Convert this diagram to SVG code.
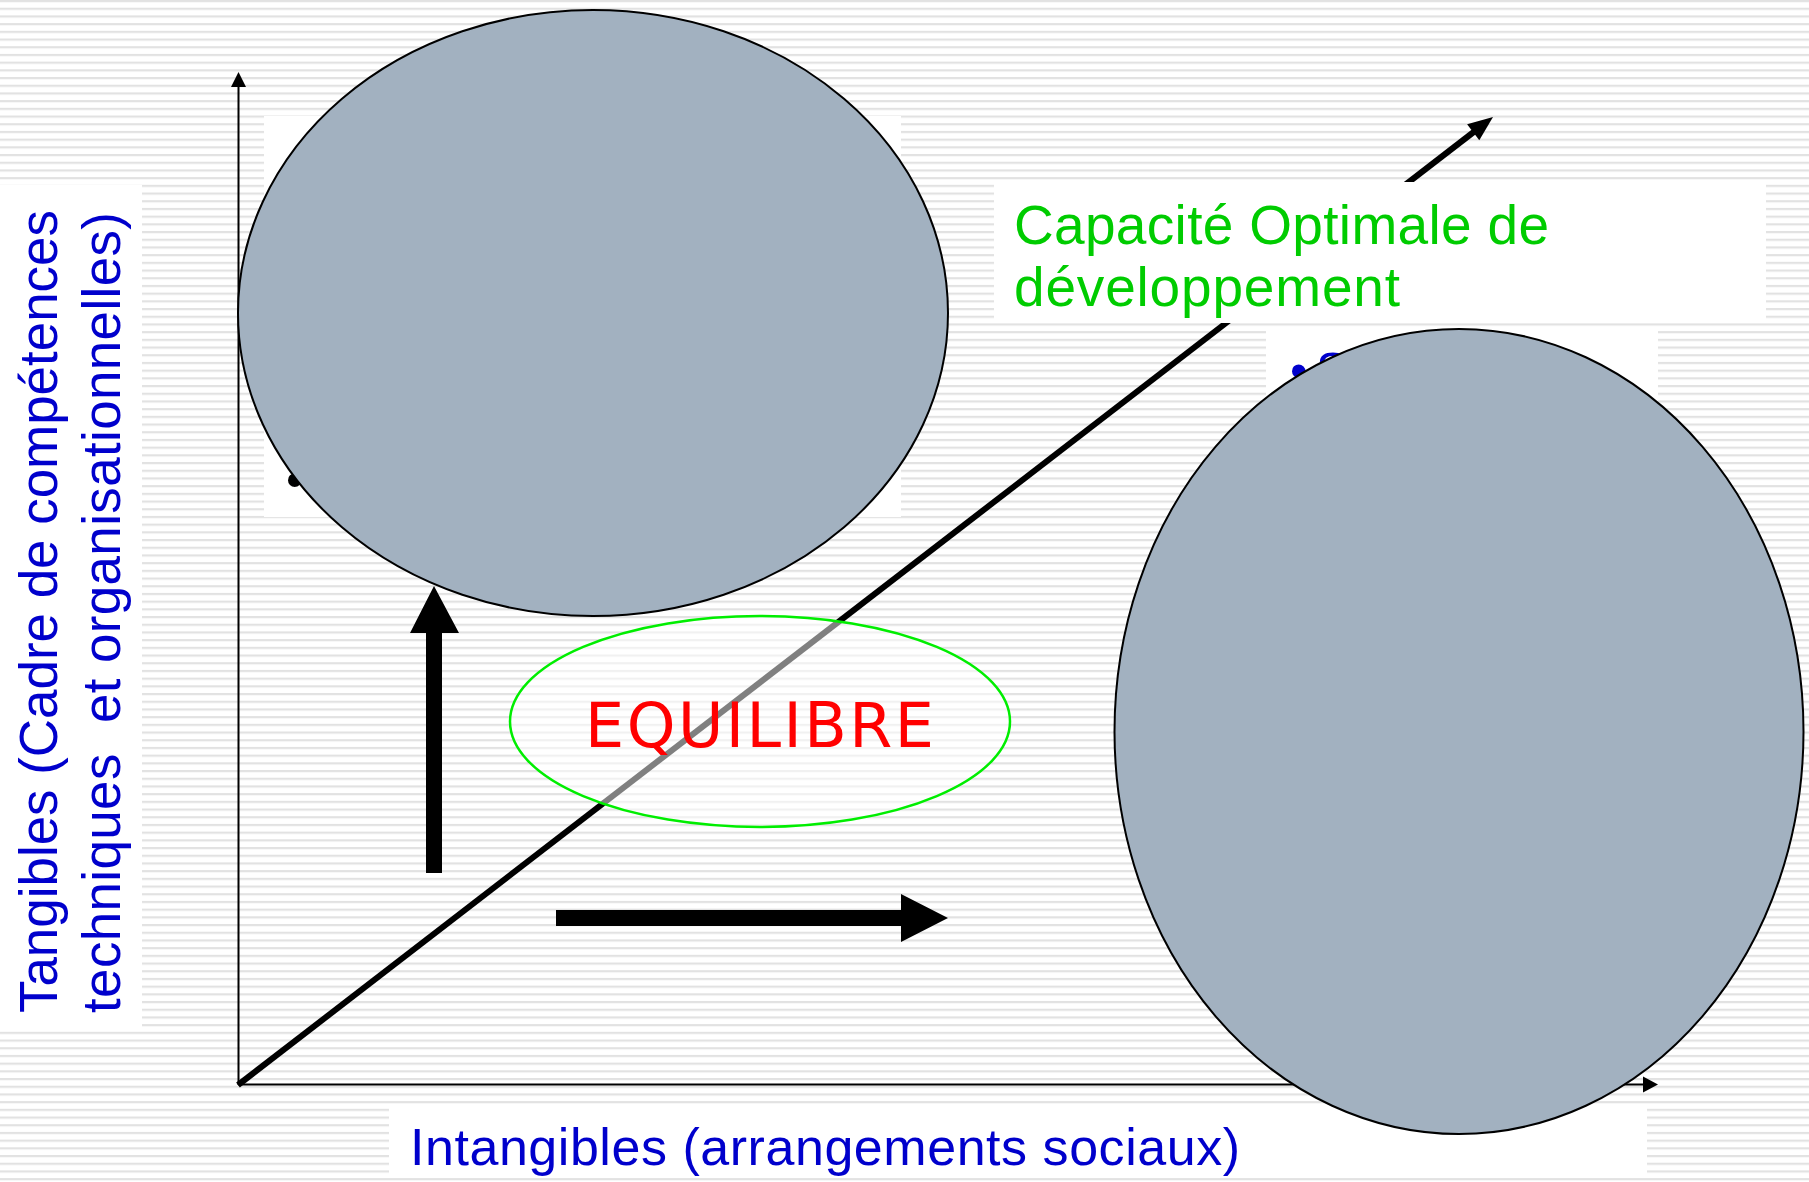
<svg xmlns="http://www.w3.org/2000/svg" width="1809" height="1182" viewBox="0 0 1809 1182">
  <defs>
    <pattern id="stripes" x="0" y="0" width="20" height="7.7" patternUnits="userSpaceOnUse">
      <rect x="0" y="0" width="20" height="2.2" fill="#e2e2e2"/>
    </pattern>
    <style>
      .box { fill: #ffffff; }
      .blob { fill: #a2b1c0; stroke: #000000; stroke-width: 2; }
      .axis { stroke: #000000; stroke-width: 2; fill: none; }
      .head { fill: #000000; }
      .blue { fill: #0000cc; font-family: "Liberation Sans", Arial, sans-serif; white-space: pre; }
      .green { fill: #00cc00; font-family: "Liberation Sans", Arial, sans-serif; font-size: 55px; }
      .bul { font-family: "Liberation Sans", Arial, sans-serif; font-size: 50px; }
    </style>
  </defs>

  <g id="background">
    <rect x="0" y="0" width="1809" height="1182" fill="#ffffff"/>
    <rect x="0" y="0" width="1809" height="1182" fill="url(#stripes)"/>
  </g>

  <g id="text-boxes">
    <rect class="box" x="0" y="185" width="142" height="845"/>
    <rect class="box" x="264" y="116" width="637" height="401"/>
    <rect class="box" x="1266" y="329" width="392" height="671"/>
    <rect class="box" x="389" y="1106" width="1258" height="71"/>
  </g>

  <g id="hidden-bullets">
    <text class="bul" x="286" y="497" fill="#000000">•</text>
    <text class="bul" x="1290" y="388" fill="#0000cc">•</text>
    <text class="bul" x="1316" y="388" fill="#0000cc">S</text>
  </g>

  <g id="connectors">
    <g id="y-axis">
      <line class="axis" x1="238.5" y1="1085" x2="238.5" y2="86"/>
      <polygon class="head" points="238.5,72 231,87 246,87"/>
    </g>
    <g id="x-axis">
      <line class="axis" x1="238" y1="1084.5" x2="1644" y2="1084.5"/>
      <polygon class="head" points="1658,1084.5 1643,1076.5 1643,1092.5"/>
    </g>
    <g id="diagonal">
      <line x1="238" y1="1085" x2="1475" y2="131" stroke="#000000" stroke-width="6"/>
      <polygon class="head" points="1493,117 1479.3,140.2 1467.1,124.3"/>
    </g>
  </g>

  <g id="capacite-label">
    <rect class="box" x="994" y="182" width="772" height="141"/>
    <text class="green" x="1014" y="244" textLength="535" lengthAdjust="spacing">Capacité Optimale de</text>
    <text class="green" x="1014" y="306" textLength="386" lengthAdjust="spacing">développement</text>
  </g>

  <g id="node-upper">
    <ellipse class="blob" cx="593" cy="313" rx="355" ry="303"/>
  </g>

  <g id="node-right">
    <ellipse class="blob" cx="1459" cy="731.5" rx="344.5" ry="402.5"/>
  </g>

  <g id="arrows">
    <polygon id="arrow-up" class="head" points="426,873 442,873 442,633 459,633 434,586 410,633 426,633"/>
    <polygon id="arrow-right" class="head" points="556,910 901,910 901,894 948,918 901,942 901,926 556,926"/>
  </g>

  <g id="node-equilibre">
    <ellipse cx="760" cy="721.5" rx="250" ry="105.5" fill="#ffffff" fill-opacity="0.5" stroke="#00ee00" stroke-width="2.5"/>
    <text x="585" y="747" fill="#ff0000" font-family="DejaVu Sans, Verdana, sans-serif" font-size="62" textLength="349" lengthAdjust="spacing">EQUILIBRE</text>
  </g>

  <g id="axis-labels">
    <text class="blue" font-size="53" transform="translate(57,1013) rotate(-90)" textLength="803" lengthAdjust="spacing">Tangibles (Cadre de compétences</text>
    <text class="blue" font-size="53" transform="translate(120,1013) rotate(-90)" textLength="801" lengthAdjust="spacing">techniques  et organisationnelles)</text>
    <text class="blue" font-size="52" x="410" y="1165" textLength="830" lengthAdjust="spacing">Intangibles (arrangements sociaux)</text>
  </g>
</svg>
